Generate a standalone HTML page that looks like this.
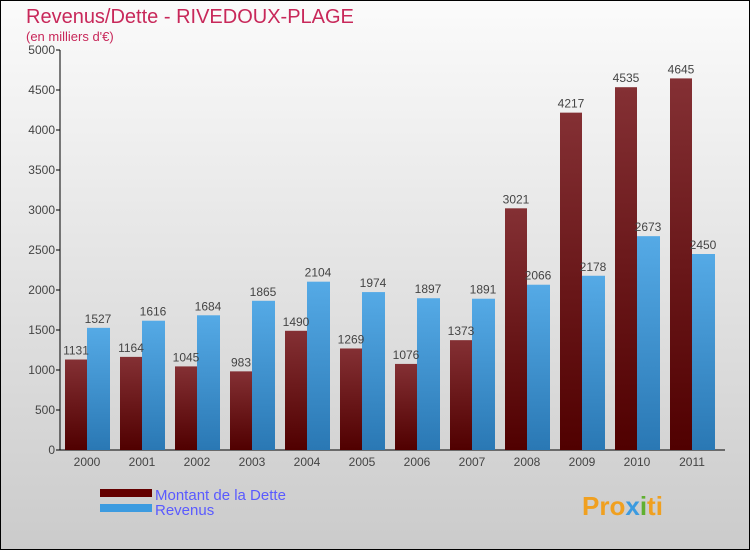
<!DOCTYPE html>
<html><head><meta charset="utf-8"><style>
body{margin:0;}
#c{position:relative;width:750px;height:550px;overflow:hidden;}
svg text{font-family:"Liberation Sans",sans-serif;}
</style></head><body>
<div id="c">
<svg id="s" width="750" height="550" xmlns="http://www.w3.org/2000/svg">
<defs>
<linearGradient id="bg" x1="0" y1="0" x2="0" y2="1"><stop offset="0" stop-color="#fbfbfb"/><stop offset="1" stop-color="#cbcbcb"/></linearGradient>
<linearGradient id="gd" x1="0" y1="0" x2="0" y2="1"><stop offset="0" stop-color="#843034"/><stop offset="1" stop-color="#500000"/></linearGradient>
<linearGradient id="gr" x1="0" y1="0" x2="0" y2="1"><stop offset="0" stop-color="#55aae6"/><stop offset="1" stop-color="#2a78b4"/></linearGradient>
</defs>
<rect x="0.5" y="0.5" width="749" height="549" fill="url(#bg)" stroke="#000"/>
<text x="26" y="23" font-size="20" fill="#c8285a">Revenus/Dette - RIVEDOUX-PLAGE</text>
<text x="26" y="41" font-size="13" fill="#c8285a">(en milliers d'€)</text>
<g id="ax"></g>
<g id="bars"></g>
<rect x="100" y="489" width="52" height="8" fill="#640000"/>
<text x="155" y="500" font-size="15" fill="#5a5aff">Montant de la Dette</text>
<rect x="100" y="504" width="52" height="8" fill="#3c9be0"/>
<text x="155" y="515" font-size="15" fill="#5a5aff">Revenus</text>
<text x="582" y="515" font-size="26" font-weight="bold" fill="#f0a020">Pro<tspan fill="#3c9be0">x</tspan><tspan fill="#60b030">i</tspan>ti</text>
</svg></div>
<script>
const years=["2000","2001","2002","2003","2004","2005","2006","2007","2008","2009","2010","2011"];
const debt=[1131,1164,1045,983,1490,1269,1076,1373,3021,4217,4535,4645];
const revenue=[1527,1616,1684,1865,2104,1974,1897,1891,2066,2178,2673,2450];
const yTicks=[0,500,1000,1500,2000,2500,3000,3500,4000,4500,5000];
const NS="http://www.w3.org/2000/svg";
const y0=450,yTop=50,yMax=5000,x0=60,pitch=55,bw=22;
function y(v){return y0-(v/yMax)*(y0-yTop);}
function gx(i){return 65+i*pitch;}
function mk(t,a,p){const e=document.createElementNS(NS,t);for(const k in a)e.setAttribute(k,a[k]);p.appendChild(e);return e;}
const ax=document.getElementById('ax'),bars=document.getElementById('bars');
yTicks.forEach(v=>{
 const l=mk('line',{x1:x0-4,x2:x0,y1:y(v),y2:y(v),stroke:'#000'},ax);
 
 
 const t=mk('text',{x:x0-5,y:y(v)+4,'font-size':12,'text-anchor':'end',fill:'#444'},ax);
 t.textContent=v;
 
 
});
years.forEach((yr,i)=>{
 const xd=gx(i),xr=gx(i)+bw;
 const bd=mk('rect',{x:xd,y:y(debt[i]),width:bw,height:y0-y(debt[i]),fill:'url(#gd)'},bars);
 
 
 const br=mk('rect',{x:xr,y:y(revenue[i]),width:bw+1,height:y0-y(revenue[i]),fill:'url(#gr)'},bars);
 
 
 const td=mk('text',{x:xd+bw/2,y:y(debt[i])-5,'font-size':12,'text-anchor':'middle',fill:'#444'},bars);
 td.textContent=debt[i];
 
 
 const tr=mk('text',{x:xr+bw/2,y:y(revenue[i])-5,'font-size':12,'text-anchor':'middle',fill:'#444'},bars);
 tr.textContent=revenue[i];
 
 
 const tx=mk('text',{x:xd+bw,y:y0+16,'font-size':12,'text-anchor':'middle',fill:'#444'},ax);
 tx.textContent=yr;
 
 
});
const ya=mk('line',{x1:x0,x2:x0,y1:yTop,y2:y0,stroke:'#000'},ax);


const xa=mk('line',{x1:x0,x2:725,y1:y0,y2:y0,stroke:'#000'},ax);


</script>
</body></html>
